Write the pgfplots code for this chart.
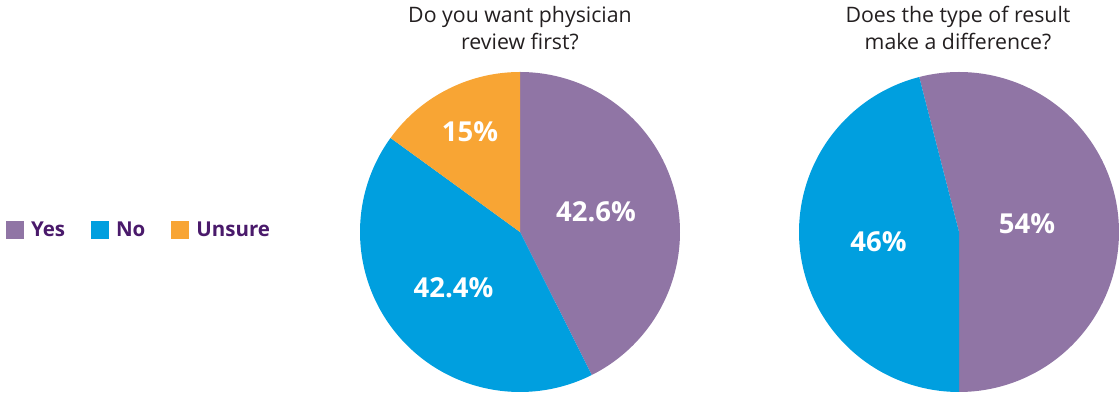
\documentclass[border=0pt]{standalone}
\usepackage{fontspec}
\setmainfont{Open Sans}
\usepackage{pgfplots}
\pgfplotsset{compat=1.18}
\definecolor{cyes}{HTML}{9075A5}
\definecolor{cno}{HTML}{009FDF}
\definecolor{cuns}{HTML}{F8A534}
\definecolor{legtxt}{HTML}{4A1A6B}
\definecolor{ttl}{HTML}{231F20}
% slice values (percent)
\def\AYes{42.6}\def\ANo{42.4}\def\AUns{15}
\def\BYes{54}\def\BNo{46}
\begin{document}
\begin{tikzpicture}
\pgfmathsetmacro{\aA}{90-3.6*\AYes}
\pgfmathsetmacro{\aB}{\aA-3.6*\ANo}
\pgfmathsetmacro{\aC}{\aB-3.6*\AUns}
\pgfmathsetmacro{\bA}{-90+3.6*\BYes}
\pgfmathsetmacro{\bB}{\bA+3.6*\BNo}
\begin{axis}[width=1119pt,height=395pt,scale only axis,
  xmin=0,xmax=1119,ymin=0,ymax=395,hide axis,clip=false,
  legend columns=3,
  legend style={at={(axis cs:6,165)},anchor=west,draw=none,fill=none,
    font=\fontsize{20.5}{22}\selectfont\bfseries,text=legtxt,
    /tikz/every even column/.append style={column sep=24pt},
    /tikz/every odd column/.append style={column sep=5pt},
    inner sep=0pt,outer sep=0pt},
  legend image code/.code={\fill[#1,draw=none] (0pt,-9pt) rectangle (18pt,9pt);},
  ]
% pie 1
\addplot[fill=cyes,draw=none,forget plot,domain=90:\aA,samples=120]
  ({520+160*cos(x)},{163+160*sin(x)}) -- (axis cs:520,163) -- cycle;
\addplot[fill=cno,draw=none,forget plot,domain=\aA:\aB,samples=120]
  ({520+160*cos(x)},{163+160*sin(x)}) -- (axis cs:520,163) -- cycle;
\addplot[fill=cuns,draw=none,forget plot,domain=\aB:\aC,samples=60]
  ({520+160*cos(x)},{163+160*sin(x)}) -- (axis cs:520,163) -- cycle;
% pie 2
\addplot[fill=cyes,draw=none,forget plot,domain=-90:\bA,samples=150]
  ({959+160*cos(x)},{163+160*sin(x)}) -- (axis cs:959,163) -- cycle;
\addplot[fill=cno,draw=none,forget plot,domain=\bA:\bB,samples=150]
  ({959+160*cos(x)},{163+160*sin(x)}) -- (axis cs:959,163) -- cycle;
% legend
\addlegendimage{fill=cyes,draw=none}\addlegendentry{Yes}
\addlegendimage{fill=cno,draw=none}\addlegendentry{No}
\addlegendimage{fill=cuns,draw=none}\addlegendentry{Unsure}
% titles
\node[anchor=base,text=ttl,font=\fontsize{21.3}{24}\selectfont] at (axis cs:520,372) {Do you want physician};
\node[anchor=base,text=ttl,font=\fontsize{21.3}{24}\selectfont] at (axis cs:520,345) {review first?};
\node[anchor=base,text=ttl,font=\fontsize{21.3}{24}\selectfont] at (axis cs:958,372) {Does the type of result};
\node[anchor=base,text=ttl,font=\fontsize{21.3}{24}\selectfont] at (axis cs:958,345) {make a difference?};
% slice labels
\node[anchor=base,text=white,font=\fontsize{27.5}{30}\selectfont\bfseries] at (axis cs:596,173) {\AYes\%};
\node[anchor=base,text=white,font=\fontsize{27.5}{30}\selectfont\bfseries] at (axis cs:453.5,97) {\ANo\%};
\node[anchor=base,text=white,font=\fontsize{27.5}{30}\selectfont\bfseries] at (axis cs:470,253) {\AUns\%};
\node[anchor=base,text=white,font=\fontsize{27.5}{30}\selectfont\bfseries] at (axis cs:878.5,143) {\BNo\%};
\node[anchor=base,text=white,font=\fontsize{27.5}{30}\selectfont\bfseries] at (axis cs:1027,161) {\BYes\%};
\end{axis}
\pgfresetboundingbox
\path[use as bounding box] (current axis.south west) rectangle (current axis.north east);
\end{tikzpicture}
\end{document}
